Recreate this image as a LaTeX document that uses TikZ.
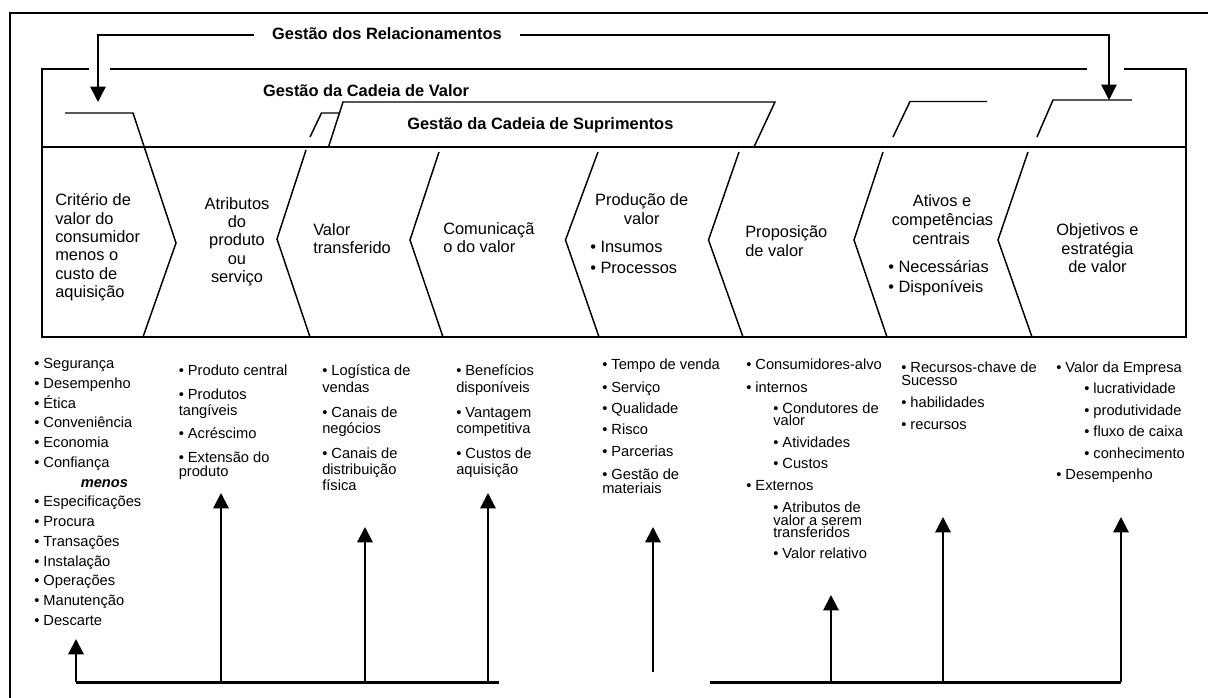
\documentclass[tikz,border=0pt]{standalone}
\usepackage{fontspec}
\setmainfont{Liberation Sans}
\usetikzlibrary{arrows.meta}
\begin{document}
\begin{tikzpicture}[x=0.75pt,y=-0.75pt,
  every node/.style={inner sep=0pt},
  ln/.style={line width=1.1pt, line join=miter},
  frame/.style={line width=1.5pt},
  up/.style={line width=1.5pt, -{Triangle[length=11.5pt,width=11.5pt]}},
  tl/.style={font=\bfseries\fontsize{12.3}{14}\selectfont, text height=8.9pt, text depth=2.6pt},
  hd/.style={font=\fontsize{12.3}{14}\selectfont, text height=8.9pt, text depth=2.6pt},
  li/.style={font=\fontsize{11}{13}\selectfont, text height=7.9pt, text depth=2.3pt, anchor=west}]
\fill[white] (0,0) rectangle (1208,698);
\useasboundingbox (0,0) rectangle (1208,698);

% outer frame (open to the right and bottom)
\draw[frame] (9.5,698) -- (9.5,13) -- (1208,13);

% relationship management bracket
\node[tl] (rel) at (387,35) {Gestão dos Relacionamentos};
\coordinate (relL) at (254,35);
\coordinate (relR) at (520,35);
\coordinate (relLc) at (98,35);
\coordinate (relRc) at (1109,35);
\coordinate (relLt) at (98,102);
\coordinate (relRt) at (1109,100);
\draw[ln,-{Triangle[length=11.5pt,width=11.5pt]}] (relL) -- (relLc) -- (relLt);
\draw[ln,-{Triangle[length=11.5pt,width=11.5pt]}] (relR) -- (relRc) -- (relRt);

% value chain box
\draw[ln] (88.5,69) -- (42,69) -- (42,337) -- (1186,337) -- (1186,69) -- (1124,69);
\draw[ln] (110,69) -- (1087,69);
\draw[ln] (42,147) -- (1186,147);
\node[tl] (vc) at (366,92) {Gestão da Cadeia de Valor};

% supply chain band
\draw[ln] (328.5,147) -- (343,102) -- (775,102) -- (754,147);
\node[tl,anchor=west] (sc) at (407,125) {Gestão da Cadeia de Suprimentos};

% chevron separators
\draw[ln] (65,113) -- (133,113) -- (176,243) -- (143,337);
\draw[ln] (340,113) -- (321.5,113) -- (310,137);
\draw[ln] (306,150) -- (277,239) -- (310,337);
\draw[ln] (439,152) -- (410,240) -- (443,337);
\draw[ln] (598,152) -- (565.5,240) -- (599,337);
\draw[ln] (739,152) -- (708.5,240) -- (743,337);
\draw[ln] (987,101.5) -- (910,101.5) -- (893,137);
\draw[ln] (883,152) -- (854,240) -- (887,337);
\draw[ln] (1132,100) -- (1053,100) -- (1037,137);
\draw[ln] (1028,152) -- (998,240) -- (1032,337);

% column headings
\foreach \y/\t [count=\i] in {201.7/Critério de, 220/valor do, 238.3/consumidor, 256.7/menos o, 275/custo de, 293.5/aquisição}
  \node[hd,anchor=west] (ha-\i) at (55,\y) {\t};
\foreach \y/\t [count=\i] in {205/Atributos, 223.3/do, 241.7/produto, 260/ou, 278.3/serviço}
  \node[hd] (hb-\i) at (237,\y) {\t};
\foreach \y/\t [count=\i] in {231.5/Valor, 249.5/transferido}
  \node[hd,anchor=west] (hc-\i) at (313,\y) {\t};
\foreach \y/\t [count=\i] in {230/Comunicaçã, 248.3/o do valor}
  \node[hd,anchor=west] (hd-\i) at (443,\y) {\t};
\node[hd] (he-1) at (641.7,201.7) {Produção de};
\node[hd] (he-2) at (641.7,220) {valor};
\node[hd,anchor=west] (he-3) at (590,248.5) {• Insumos};
\node[hd,anchor=west] (he-4) at (590,269) {• Processos};
\foreach \y/\t [count=\i] in {233.3/Proposição, 252.5/de valor}
  \node[hd,anchor=west] (hf-\i) at (745,\y) {\t};
\node[hd] (hg-1) at (942,202) {Ativos e};
\node[hd] (hg-2) at (942.5,221.5) {competências};
\node[hd] (hg-3) at (941,240) {centrais};
\node[hd,anchor=west] (hg-4) at (888,268.3) {• Necessárias};
\node[hd,anchor=west] (hg-5) at (888,288.3) {• Disponíveis};
\foreach \y/\t [count=\i] in {231.7/Objetivos e, 250/estratégia, 268.3/de valor}
  \node[hd] (hh-\i) at (1097.5,\y) {\t};

% item lists below the chain
\foreach \y/\t [count=\i] in {365/• Segurança, 384.75/• Desempenho, 404.5/• Ética, 424.25/• Conveniência, 444/• Economia, 463.75/• Confiança, 503.25/• Especificações, 523/• Procura, 542.75/• Transações, 562.5/• Instalação, 582.25/• Operações, 602/• Manutenção, 621.75/• Descarte}
  \node[li] (la-\i) at (34,\y) {\t};
\node[li,font=\bfseries\itshape\fontsize{11}{13}\selectfont] (menos) at (80.5,483.5) {menos};
\foreach \y/\t [count=\i] in {371.7/• Produto central, 396/• Produtos, 411.7/tangíveis, 434.3/• Acréscimo, 458.3/• Extensão do, 472.3/produto}
  \node[li] (lb-\i) at (178.5,\y) {\t};
\foreach \y/\t [count=\i] in {371.7/• Logística de, 388.3/vendas, 414/• Canais de, 429.3/negócios, 455/• Canais de, 470.7/distribuição, 486.7/física}
  \node[li] (lc-\i) at (322,\y) {\t};
\foreach \y/\t [count=\i] in {371.7/• Benefícios, 388.3/disponíveis, 414/• Vantagem, 429.3/competitiva, 455/• Custos de, 470.7/aquisição}
  \node[li] (ld-\i) at (456,\y) {\t};
\foreach \y/\t [count=\i] in {366/• Tempo de venda, 388.3/• Serviço, 409.3/• Qualidade, 431/• Risco, 452.7/• Parcerias, 476/• Gestão de, 490/materiais}
  \node[li] (le-\i) at (602,\y) {\t};
\foreach \x/\y/\t [count=\i] in {746/366/• Consumidores-alvo, 746/388.3/• internos, 773/409.3/• Condutores de, 773/421.7/valor, 773/443.3/• Atividades, 773/465/• Custos, 746/486.7/• Externos, 773/508.3/• Atributos de, 773/521.7/valor a serem, 773/534/transferidos, 773/555/• Valor relativo}
  \node[li] (lf-\i) at (\x,\y) {\t};
\foreach \y/\t [count=\i] in {368.3/• Recursos-chave de, 381.7/Sucesso, 404/• habilidades, 426/• recursos}
  \node[li] (lg-\i) at (901,\y) {\t};
\foreach \x/\y/\t [count=\i] in {1056/368.3/• Valor da Empresa, 1084/390/• lucratividade, 1084/411.7/• produtividade, 1084/432.7/• fluxo de caixa, 1084/455/• conhecimento, 1056/476/• Desempenho}
  \node[li] (lh-\i) at (\x,\y) {\t};

% feedback arrows from the base lines
\coordinate (bl1) at (76,682.5);  \coordinate (bl2) at (499,682.5);
\coordinate (br1) at (710,682.5); \coordinate (br2) at (1121,682.5);
\draw[line width=1.6pt] (bl1) -- (bl2);
\draw[line width=1.6pt] (br1) -- (br2);
\foreach \x/\t [count=\i] in {76/639, 221/493, 365/527, 488/493, 831/595, 943/517, 1121/517}
  \draw[up] (\x,682.5) -- (\x,\t);
\coordinate (fa1) at (653,672); \coordinate (fa2) at (653,527);
\draw[up] (fa1) -- (fa2);
\end{tikzpicture}
\end{document}
